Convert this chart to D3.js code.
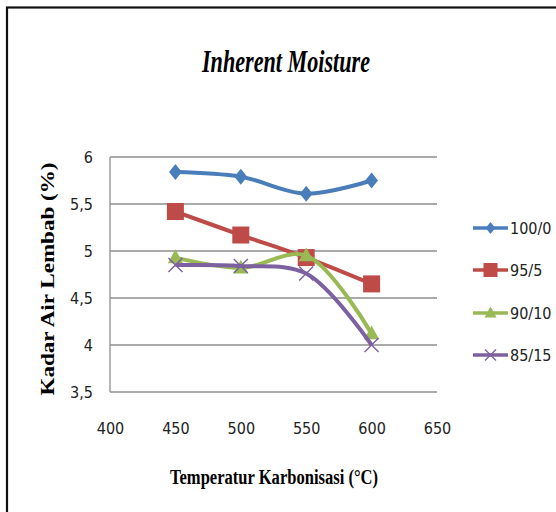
<!DOCTYPE html>
<html>
<head>
<meta charset="utf-8">
<script src="https://cdn.jsdelivr.net/npm/d3@7"></script>
<style>
  html, body { margin: 0; padding: 0; background: #fff; }
  svg { display: block; }
</style>
</head>
<body>
<svg id="chart" width="556" height="512"></svg>
<script>
// Carbonisation temperatures (°C)
const temperatures = [450, 500, 550, 600];
// Inherent moisture (%) for each blend ratio
const series100_0 = [5.84, 5.79, 5.61, 5.75];
const series95_5  = [5.42, 5.17, 4.93, 4.65];
const series90_10 = [4.93, 4.82, 4.95, 4.12];
const series85_15 = [4.85, 4.84, 4.76, 4.00];
const seriesNames = ["100/0", "95/5", "90/10", "85/15"];
const xTicks = [400, 450, 500, 550, 600, 650];
const yTicks = [3.5, 4, 4.5, 5, 5.5, 6];
const yTickLabels = ["3,5", "4", "4,5", "5", "5,5", "6"];

const seriesValues = [series100_0, series95_5, series90_10, series85_15];
const colors = ["#4a7ebb", "#be4b48", "#98b954", "#7d60a0"];
const symbols = ["diamond", "square", "triangle", "cross"];

const svg = d3.select("#chart");

// outer frame
svg.append("rect")
  .attr("x", 7).attr("y", 7.5)
  .attr("width", 600).attr("height", 600)
  .attr("fill", "none").attr("stroke", "#111").attr("stroke-width", 2.2);

const x = d3.scaleLinear().domain([400, 650]).range([110, 437]);
const y = d3.scaleLinear().domain([3.5, 6]).range([392, 157]);

// gridlines
svg.append("g").selectAll("line").data(yTicks).join("line")
  .attr("x1", x(400)).attr("x2", x(650))
  .attr("y1", d => y(d)).attr("y2", d => y(d))
  .attr("stroke", "#8e8e8e").attr("stroke-width", 1.3);
// vertical axis line
svg.append("line")
  .attr("x1", x(400)).attr("x2", x(400)).attr("y1", y(6)).attr("y2", y(3.5))
  .attr("stroke", "#8e8e8e").attr("stroke-width", 1.3);

const tickFont = "'DejaVu Sans Condensed', 'Liberation Sans', sans-serif";

// y tick labels
const yAxis = d3.axisLeft(y).tickValues(yTicks)
  .tickFormat((d, i) => yTickLabels[i]).tickSize(0).tickPadding(17);
const gy = svg.append("g").attr("transform", `translate(${x(400)},0)`).call(yAxis);
gy.select(".domain").remove();
gy.selectAll("text").attr("font-family", tickFont).attr("font-size", 16).attr("fill", "#222");

// x tick labels
const xAxis = d3.axisBottom(x).tickValues(xTicks).tickSize(0).tickPadding(31);
const gx = svg.append("g").attr("transform", `translate(0,${y(3.5)})`).call(xAxis);
gx.select(".domain").remove();
gx.selectAll("text").attr("font-family", tickFont).attr("font-size", 16).attr("fill", "#222");

// title
svg.append("text")
  .attr("x", 286).attr("y", 72)
  .attr("text-anchor", "middle")
  .attr("font-family", "'Liberation Serif', 'DejaVu Serif', serif")
  .attr("font-weight", "bold").attr("font-style", "italic")
  .attr("font-size", 31)
  .attr("textLength", 168).attr("lengthAdjust", "spacingAndGlyphs")
  .text("Inherent Moisture");

// axis titles
svg.append("text")
  .attr("x", 274).attr("y", 484)
  .attr("text-anchor", "middle")
  .attr("font-family", "'Liberation Serif', 'DejaVu Serif', serif")
  .attr("font-weight", "bold").attr("font-size", 20)
  .attr("textLength", 208).attr("lengthAdjust", "spacingAndGlyphs")
  .text("Temperatur Karbonisasi (°C)");

svg.append("text")
  .attr("transform", "translate(54,279) rotate(-90)")
  .attr("text-anchor", "middle")
  .attr("font-family", "'Liberation Serif', 'DejaVu Serif', serif")
  .attr("font-weight", "bold").attr("font-size", 19)
  .attr("textLength", 233).attr("lengthAdjust", "spacingAndGlyphs")
  .text("Kadar Air Lembab (%)");

// markers
function drawMarker(g, type, color, size) {
  if (type === "diamond") {
    g.append("path").attr("d", `M0,${-size}L${size * 0.8},0L0,${size}L${-size * 0.8},0Z`).attr("fill", color);
  } else if (type === "square") {
    g.append("rect").attr("x", -size).attr("y", -size).attr("width", 2 * size).attr("height", 2 * size).attr("fill", color);
  } else if (type === "triangle") {
    g.append("path").attr("d", `M0,${-size * 1.1}L${size},${size * 0.75}L${-size},${size * 0.75}Z`).attr("fill", color);
  } else {
    g.append("path").attr("d", `M${-size},${-size}L${size},${size}M${-size},${size}L${size},${-size}`)
      .attr("stroke", color).attr("stroke-width", 1.4).attr("fill", "none");
  }
}

const line = d3.line()
  .x((d, i) => x(temperatures[i]))
  .y(d => y(d))
  .curve(d3.curveCatmullRom.alpha(0.5));

const markerSizes = [8, 8.5, 7.5, 7];

seriesValues.forEach((vals, s) => {
  const g = svg.append("g");
  g.append("path").datum(vals)
    .attr("d", line)
    .attr("fill", "none")
    .attr("stroke", colors[s])
    .attr("stroke-width", 4)
    .attr("stroke-linejoin", "round");
  vals.forEach((v, i) => {
    const m = g.append("g").attr("transform", `translate(${x(temperatures[i])},${y(v)})`);
    drawMarker(m, symbols[s], colors[s], markerSizes[s]);
  });
});

// legend
const legendY = [228, 270, 313, 355];
const legendMarkerSizes = [6, 7, 6, 5.5];
seriesNames.forEach((name, s) => {
  const g = svg.append("g").attr("transform", `translate(0,${legendY[s]})`);
  g.append("line").attr("x1", 473).attr("x2", 508).attr("y1", 0).attr("y2", 0)
    .attr("stroke", colors[s]).attr("stroke-width", 3.6);
  const m = g.append("g").attr("transform", "translate(490.5,0)");
  drawMarker(m, symbols[s], colors[s], legendMarkerSizes[s]);
  g.append("text").attr("x", 510).attr("y", 6)
    .attr("font-family", tickFont).attr("font-size", 16).attr("fill", "#222")
    .text(name);
});
</script>
</body>
</html>
